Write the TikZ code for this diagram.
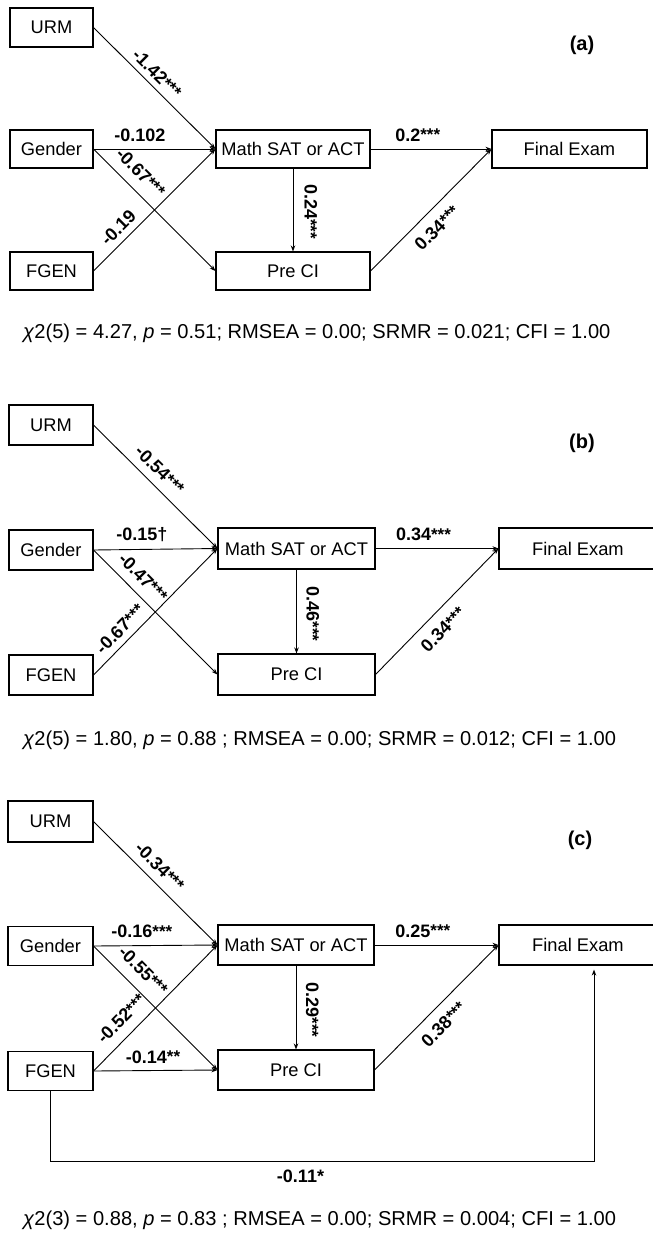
\documentclass[tikz,border=0pt]{standalone}
\usepackage{fontspec}
\setmainfont{Liberation Sans}
\usetikzlibrary{arrows.meta,calc}
\newcommand{\bxf}{\fontsize{18.3}{20}\selectfont}
\newcommand{\lbf}{\fontsize{18}{20}\selectfont\bfseries}
\newcommand{\chf}{\fontsize{20.1}{22}\selectfont}
\newcommand{\sg}[1]{{\fontsize{17}{17}\selectfont\raisebox{0.5pt}{#1}}}
\begin{document}
\begin{tikzpicture}[x=1pt,y=1pt,
  boxn/.style={draw, line width=1.1pt, rectangle, inner sep=0pt, font=\bxf},
  arr/.style={line width=0.9pt, -{Stealth[length=6pt,width=4.5pt]}},
  lab/.style={font=\lbf, inner sep=#1},
  lab/.default=6pt,
  tag/.style={font=\fontsize{20}{22}\selectfont\bfseries, inner sep=0pt},
  fit/.style={font=\chf, inner sep=0pt, anchor=west}]
\clip (0,0) rectangle (653,-1235);
\fill[white] (0,0) rectangle (653,-1235);

% ---------------- panel (a)
\node[boxn, minimum width=83pt, minimum height=39pt] (urmA) at (51.5,-27.5) {URM};
\node[boxn, minimum width=83pt, minimum height=38pt] (genA) at (51.5,-149) {Gender};
\node[boxn, minimum width=83pt, minimum height=38pt] (fgA) at (51.5,-271) {FGEN};
\node[boxn, minimum width=154pt, minimum height=38pt] (mathA) at (293,-149) {Math SAT or ACT};
\node[boxn, minimum width=154pt, minimum height=38pt] (preA) at (293,-271) {Pre CI};
\node[boxn, minimum width=155pt, minimum height=38pt] (finA) at (569.5,-149) {Final Exam};
\node[tag] (tagA) at (582,-45) {(a)};

\draw[arr] (urmA.east) -- node[lab=5.5pt, sloped, above, pos=0.45] {-1.42\sg{***}} (mathA.west);
\draw[arr] (genA.east) -- node[lab=7pt, above, pos=0.38] {-0.102} (mathA.west);
\draw[arr] (genA.east) -- node[lab=10pt, sloped, above, pos=0.29] {-0.67\sg{***}} (preA.west);
\draw[arr] (fgA.east) -- node[lab=6.5pt, sloped, above, pos=0.28] {-0.19} (mathA.west);
\draw[arr] (mathA.south) -- node[lab=11pt, sloped, above, pos=0.52] {0.24\sg{***}} (preA.north);
\draw[arr] (mathA.east) -- node[lab=7pt, above, pos=0.39] {0.2\sg{***}} (finA.west);
\draw[arr] (preA.east) -- node[lab=10pt, sloped, below, pos=0.45] {0.34\sg{***}} (finA.west);

\node[fit] (fitA) at (23,-333) {\textit{χ}2(5) = 4.27, \textit{p} = 0.51; RMSEA = 0.00; SRMR = 0.021; CFI = 1.00};

% ---------------- panel (b)
\node[boxn, minimum width=84pt, minimum height=40pt] (urmB) at (51,-425) {URM};
\node[boxn, minimum width=84pt, minimum height=40pt] (genB) at (51,-550) {Gender};
\node[boxn, minimum width=84pt, minimum height=40pt] (fgB) at (51,-675) {FGEN};
\node[boxn, minimum width=157pt, minimum height=41pt] (mathB) at (296.5,-548.5) {Math SAT or ACT};
\node[boxn, minimum width=157pt, minimum height=41pt] (preB) at (296.5,-674.5) {Pre CI};
\node[boxn, minimum width=158pt, minimum height=41pt] (finB) at (578,-548.5) {Final Exam};
\node[tag] (tagB) at (582,-443) {(b)};

\draw[arr] (urmB.east) -- node[lab=8pt, sloped, above, pos=0.45] {-0.54\sg{***}} (mathB.west);
\draw[arr] (genB.east) -- node[lab=7pt, above, pos=0.39] {-0.15†} (mathB.west);
\draw[arr] (genB.east) -- node[lab=9pt, sloped, above, pos=0.31] {-0.47\sg{***}} (preB.west);
\draw[arr] (fgB.east) -- node[lab=6.5pt, sloped, above, pos=0.29] {-0.67\sg{***}} (mathB.west);
\draw[arr] (mathB.south) -- node[lab=9.5pt, sloped, above, pos=0.53] {0.46\sg{***}} (preB.north);
\draw[arr] (mathB.east) -- node[lab=7pt, above, pos=0.39] {0.34\sg{***}} (finB.west);
\draw[arr] (preB.east) -- node[lab=10pt, sloped, below, pos=0.45] {0.34\sg{***}} (finB.west);

\node[fit] (fitB) at (23,-740) {\textit{χ}2(5) = 1.80, \textit{p} = 0.88 ; RMSEA = 0.00; SRMR = 0.012; CFI = 1.00};

% ---------------- panel (c)
\node[boxn, minimum width=85pt, minimum height=41pt] (urmC) at (50.5,-821.5) {URM};
\node[boxn, minimum width=85pt, minimum height=39pt] (genC) at (50.5,-946) {Gender};
\node[boxn, minimum width=85pt, minimum height=39pt] (fgC) at (50.5,-1071) {FGEN};
\node[boxn, minimum width=156pt, minimum height=40pt] (mathC) at (296,-945) {Math SAT or ACT};
\node[boxn, minimum width=156pt, minimum height=40pt] (preC) at (296,-1070) {Pre CI};
\node[boxn, minimum width=158pt, minimum height=40pt] (finC) at (578,-945) {Final Exam};
\node[tag] (tagC) at (580,-840) {(c)};

\draw[arr] (urmC.east) -- node[lab=8pt, sloped, above, pos=0.45] {-0.34\sg{***}} (mathC.west);
\draw[arr] (genC.east) -- node[lab=7pt, above, pos=0.39] {-0.16\sg{***}} (mathC.west);
\draw[arr] (genC.east) -- node[lab=11pt, sloped, above, pos=0.30] {-0.55\sg{***}} (preC.west);
\draw[arr] (fgC.east) -- node[lab=10pt, sloped, above, pos=0.32] {-0.52\sg{***}} (mathC.west);
\draw[arr] (fgC.east) -- node[lab=6.5pt, above, pos=0.48] {-0.14\sg{**}} (preC.west);
\draw[arr] (mathC.south) -- node[lab=9.5pt, sloped, above, pos=0.53] {0.29\sg{***}} (preC.north);
\draw[arr] (mathC.east) -- node[lab=7pt, above, pos=0.39] {0.25\sg{***}} (finC.west);
\draw[arr] (preC.east) -- node[lab=10pt, sloped, below, pos=0.46] {0.38\sg{***}} (finC.west);

\coordinate (cornC) at (594,-1161);
\draw[arr] (fgC.south) |- node[lab=8pt, below, pos=0.73] {-0.11*} (cornC) -- ($(cornC |- finC.south)+(0,-4)$);

\node[fit] (fitC) at (23,-1220) {\textit{χ}2(3) = 0.88, \textit{p} = 0.83 ; RMSEA = 0.00; SRMR = 0.004; CFI = 1.00};
\end{tikzpicture}
\end{document}
